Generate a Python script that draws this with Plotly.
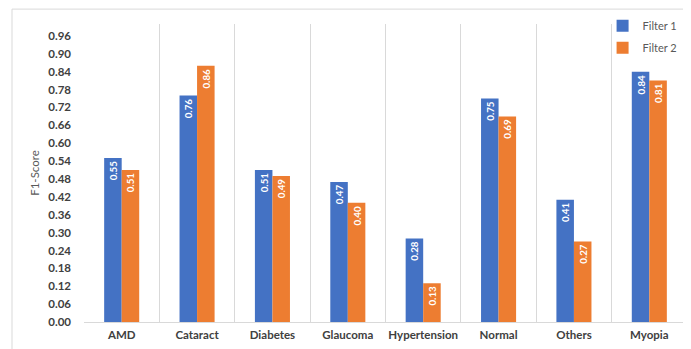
import plotly.graph_objects as go

categories = ["AMD", "Cataract", "Diabetes", "Glaucoma", "Hypertension", "Normal", "Others", "Myopia"]
filter1 = [0.55, 0.76, 0.51, 0.47, 0.28, 0.75, 0.41, 0.84]
filter2 = [0.51, 0.86, 0.49, 0.40, 0.13, 0.69, 0.27, 0.81]
y_ticks = [round(i * 0.06, 2) for i in range(17)]

FONT = "Lato"
fig = go.Figure()
for name, vals, col in [("Filter 1", filter1, "#4472C4"), ("Filter 2", filter2, "#ED7D31")]:
    fig.add_trace(go.Bar(
        x=categories, y=vals, name=name, legendgroup=name,
        marker=dict(color=col, line=dict(width=0)),
        text=[f"{v:.2f}" for v in vals], textposition="inside", insidetextanchor="end",
        textangle=-90, textfont=dict(color="white", size=11, family=FONT, weight="bold"),
        cliponaxis=False,
    ))

fig.update_layout(
    width=683, height=341,
    margin=dict(l=76, r=4, t=16, b=27, autoexpand=False),
    paper_bgcolor="white", plot_bgcolor="white",
    barmode="group", bargap=0.535, bargroupgap=0,
    font=dict(family=FONT, color="#595959"),
    legend=dict(x=0.86, y=1.043, xanchor="left", yanchor="top",
                font=dict(size=11, color="#595959", family=FONT),
                itemwidth=30, tracegroupgap=3, bgcolor="rgba(0,0,0,0)"),
    uniformtext=dict(minsize=8, mode="show"),
    xaxis=dict(showgrid=True, gridcolor="#d9d9d9", gridwidth=1, tickson="boundaries",
               ticks="", range=[-0.5, 7.5], showline=False, tickangle=0, automargin=False,
               ticklabelstandoff=4,
               tickfont=dict(size=11.5, color="#404040", family=FONT, weight="bold")),
    yaxis=dict(range=[0, 1.0], tickvals=y_ticks, ticktext=[f"{v:.2f}" for v in y_ticks],
               showgrid=False, zeroline=True, zerolinecolor="#d9d9d9", zerolinewidth=1,
               ticks="", ticklabelstandoff=12, automargin=False,
               tickfont=dict(size=11.5, color="#404040", family=FONT, weight="bold"),
               title=dict(text="F1-Score", font=dict(size=11.5, color="#595959", family=FONT), standoff=6)),
    shapes=[
        dict(type="line", xref="paper", yref="paper", x0=-0.1194, x1=1.01, y0=1.05, y1=1.05,
             line=dict(color="#d9d9d9", width=1)),
        dict(type="line", xref="paper", yref="paper", x0=-0.1194, x1=-0.1194, y0=1.05, y1=-0.2,
             line=dict(color="#d9d9d9", width=1)),
    ],
)
fig.write_html("out.html")
